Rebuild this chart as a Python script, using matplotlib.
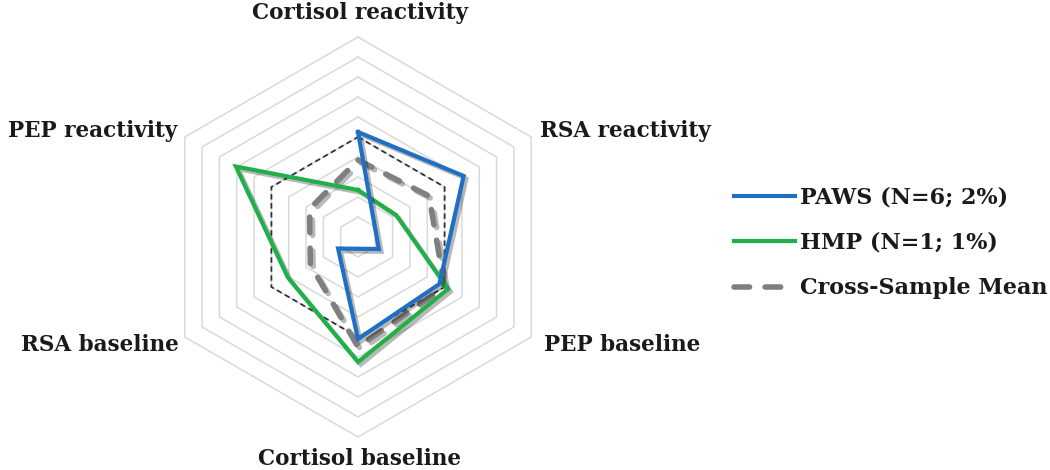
import numpy as np
import matplotlib
matplotlib.use("Agg")
import matplotlib.pyplot as plt
import matplotlib.patheffects as pe

# ---- data ----
categories = ["Cortisol reactivity", "RSA reactivity", "PEP baseline",
              "Cortisol baseline", "RSA baseline", "PEP reactivity"]
angles_deg = [90, 30, -30, -90, -150, 150]
paws = [5.25, 6.1, 4.7, 5.1, 1.15, -1.2]
hmp = [2.35, 2.2, 5.2, 6.25, 4.05, 7.05]
cross_mean = [3.85, 4.1, 5.0, 5.5, 2.75, 2.8]
reference_level = [5, 5, 5, 5, 5, 5]
ring_levels = list(range(1, 11))
series_labels = ["PAWS (N=6; 2%)", "HMP (N=1; 1%)", "Cross-Sample Mean"]

FONT = ["DejaVu Serif"]

fig = plt.figure(figsize=(10.5, 4.7), dpi=100)
ax = fig.add_axes([0, 0, 1, 1])
# 1 unit = 20 px, center at pixel (358, 237)
ax.set_xlim(-358 / 20, (1050 - 358) / 20)
ax.set_ylim(-(470 - 237) / 20, 237 / 20)
ax.axis("off")

th = np.deg2rad(angles_deg)


def closed_xy(vals):
    v = np.asarray(vals, float)
    x = v * np.cos(th)
    y = v * np.sin(th)
    return np.append(x, x[0]), np.append(y, y[0])


# hexagonal grid rings
for r in ring_levels:
    x, y = closed_xy([r] * 6)
    ax.plot(x, y, color="#d9d9d9", lw=1.1, zorder=1)

# reference dashed hexagon
x, y = closed_xy(reference_level)
ax.plot(x, y, color="#333333", lw=1.3, ls=(0, (3, 2)), zorder=2)

shadow = [pe.SimpleLineShadow(offset=(2, -2), shadow_color="black", alpha=0.28),
          pe.Normal()]

x, y = closed_xy(cross_mean)
l3, = ax.plot(x, y, color="#7f7f7f", lw=4.0, dashes=(2.8, 2.8),
              dash_capstyle="round", solid_joinstyle="round", zorder=3,
              path_effects=shadow, label=series_labels[2])

x, y = closed_xy(hmp)
l2, = ax.plot(x, y, color="#1fb04a", lw=3.0, solid_joinstyle="miter",
              zorder=4, path_effects=shadow, label=series_labels[1])

x, y = closed_xy(paws)
l1, = ax.plot(x, y, color="#1f6fc4", lw=3.0, solid_joinstyle="miter",
              zorder=5, path_effects=shadow, label=series_labels[0])

# axis labels
lab_pos = [(0.1, 11.2, "center"), (9.1, 5.3, "left"), (9.3, -5.4, "left"),
           (0.1, -11.1, "center"), (-8.95, -5.4, "right"), (-9.05, 5.3, "right")]
for name, (lx, ly, ha) in zip(categories, lab_pos):
    ax.text(lx, ly, name, ha=ha, va="center", fontsize=15.5, fontweight="bold",
            family=FONT, color="#1a1a1a")

leg = ax.legend(handles=[l1, l2, l3], loc="center left",
                bbox_to_anchor=(734 / 1050, 1 - 243 / 470),
                bbox_transform=fig.transFigure, frameon=False,
                prop={"family": FONT, "weight": "bold", "size": 16},
                handlelength=2.75, handletextpad=0.22, labelspacing=1.05,
                borderpad=0, borderaxespad=0)
for t in leg.get_texts():
    t.set_color("#1a1a1a")
for h in leg.legend_handles:
    h.set_path_effects([])

fig.savefig("out.png", dpi=100)
